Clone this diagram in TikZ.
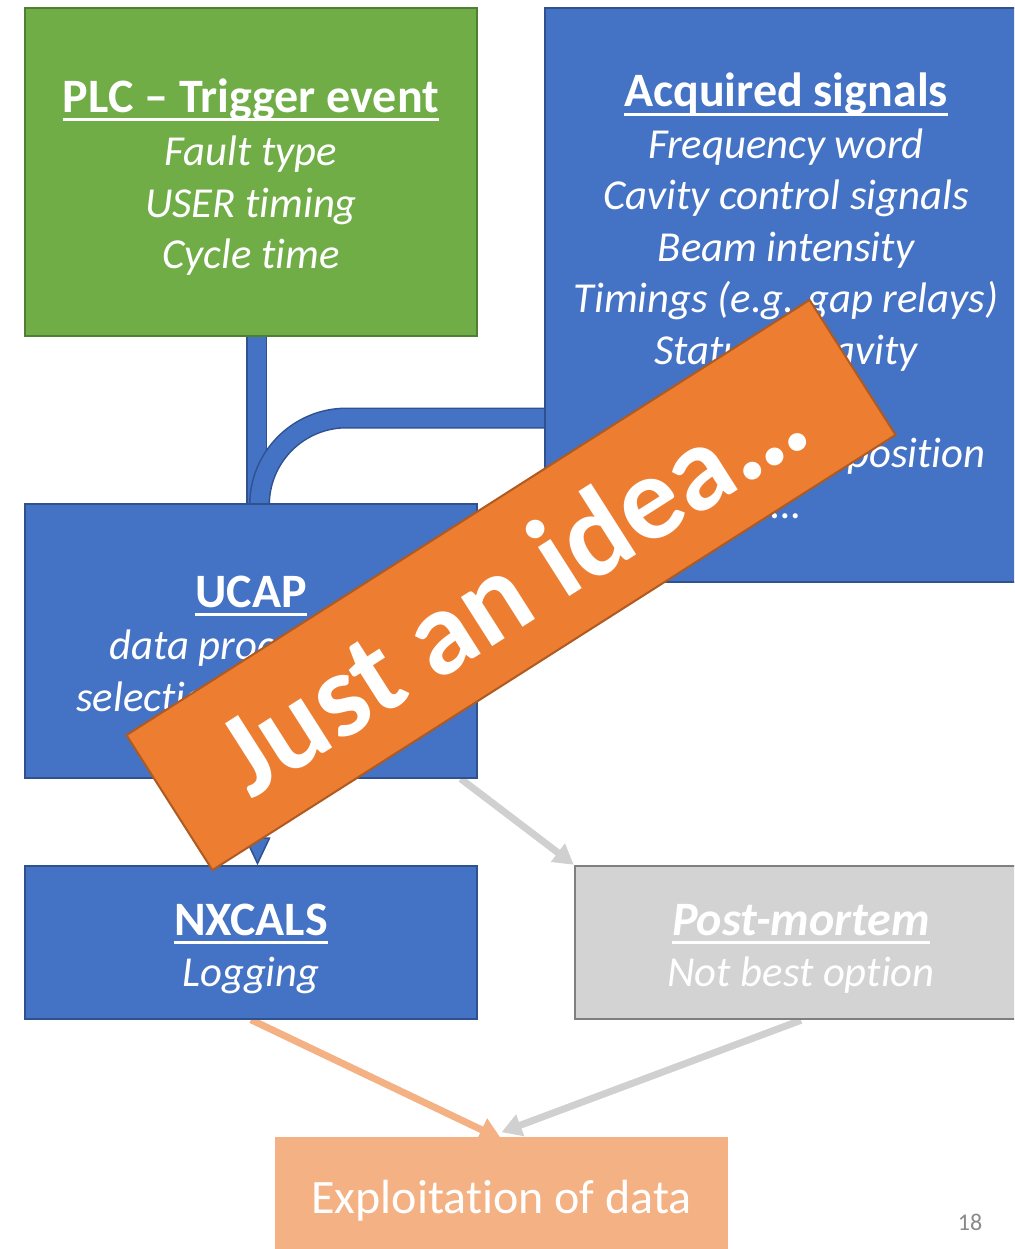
\documentclass[tikz,border=0pt]{standalone}
\usepackage{fontspec}
\setmainfont{Carlito}[Ligatures={TeX,NoCommon}]
\usetikzlibrary{arrows.meta,backgrounds}

\definecolor{boxblue}{HTML}{4472C4}
\definecolor{boxline}{HTML}{2F528F}
\definecolor{plcgreen}{HTML}{70AD47}
\definecolor{plcline}{HTML}{507E32}
\definecolor{pmgray}{HTML}{D3D3D3}
\definecolor{pmline}{HTML}{7F7F7F}
\definecolor{arrowgray}{HTML}{D0D0D0}
\definecolor{explorange}{HTML}{F4B183}
\definecolor{bannerorange}{HTML}{ED7D31}
\definecolor{bannerline}{HTML}{AE5A21}
\definecolor{numgray}{HTML}{898989}

% underlined heading of a box
\newcommand{\ulbox}[1]{\setbox0=\hbox{\fontsize{48}{53}\selectfont\bfseries #1}%
  \rule{0pt}{44pt}\rlap{\rule[-9pt]{\wd0}{3pt}}\box0}

\begin{document}
\begin{tikzpicture}[
  x=1pt, y=-1pt,
  box/.style={draw=boxline, fill=boxblue, line width=1.5pt, text=white,
    align=center, inner sep=0pt, font=\fontsize{42.7}{51.5}\selectfont\itshape},
  link/.style={draw=boxline, line width=1.5pt, double=boxblue, double distance=18pt},
  lightarrow/.style={draw=arrowgray, line width=7pt, -{Triangle[width=22pt,length=20pt]}},
  orangearrow/.style={draw=explorange, line width=7pt, -{Triangle[width=24pt,length=22pt]}}
  ]
%\draw [ultra thin, lightgray] (0,0) grid[step=100] (1014,1249);
\useasboundingbox (0,0) rectangle (1014,1249);
\clip (0,0) rectangle (1014,1249);
\node [box, fill=plcgreen, draw=plcline, minimum width=452pt, minimum height=328pt] (plc) at (251,172)
  {\ulbox{\upshape PLC -- Trigger event}\\[2pt] Fault type\\ USER timing\\ Cycle time};
\node [box, minimum width=482pt, minimum height=574pt] (acq) at (786,295)
  {\ulbox{\upshape Acquired signals}\\ Frequency word\\ Cavity control signals\\
   Beam intensity\\ Timings (e.g. gap relays)\\ Status of cavity\\ \mbox{}\\
   Phase \& radial position\\ …\rule[-9pt]{0pt}{0pt}};
\node [box, minimum width=452pt, minimum height=274pt] (ucap) at (251,641)
  {\ulbox{\upshape UCAP}\\[1pt] data processing,\\ selection and saving};
\node [box, minimum width=452pt, minimum height=153pt] (nxcals) at (251,942.5)
  {\ulbox{\upshape NXCALS}\\ Logging};
\node [box, fill=pmgray, draw=pmline, line width=2.5pt, minimum width=452pt, minimum height=153pt] (pm) at (801,942.5)
  {\ulbox{Post-mortem}\\ Not best option};
\node [box, fill=explorange, draw=none, minimum width=453pt, minimum height=128pt,
  font=\fontsize{48}{56}\selectfont\upshape] (expl) at (501.5,1201) {Exploitation of data};
\node [text=numgray, font=\fontsize{24}{24}\selectfont] (page) at (970,1222) {18};
\begin{scope}[on background layer]
\draw [link] ([xshift=5.5pt]plc.south) -- ([xshift=5.5pt]plc.south |- ucap.north);
\draw [link, rounded corners=87pt] ([yshift=-123pt]acq.west) -| ([xshift=8.5pt]ucap.north);
\draw [boxblue, line width=8pt, -{Triangle[width=26pt,length=28pt,fill=boxblue,color=boxline,line width=1.5pt]}]
  ([xshift=6.5pt]ucap.south) -- ([xshift=6.5pt]ucap.south |- nxcals.north);
\draw [lightarrow] ([xshift=-17pt]ucap.south east) -- (pm.north west);
\draw [orangearrow] (nxcals.south) -- ([yshift=-3pt]expl.north);
\draw [lightarrow] (pm.south) -- ([yshift=4pt]expl.north);
\end{scope}
\node [draw=bannerline, fill=bannerorange, line width=2pt, minimum width=810pt, minimum height=160pt,
  rotate=32.5, text=white, font=\fontsize{120}{120}\selectfont\bfseries] (idea) at (511,585) {Just an idea…};
\end{tikzpicture}
\end{document}
